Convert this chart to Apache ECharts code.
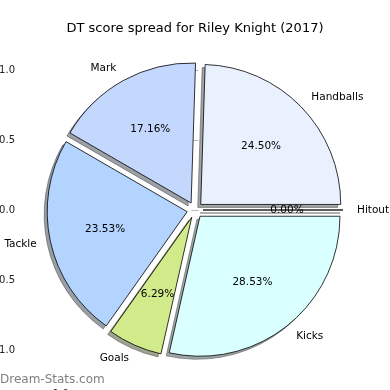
<!DOCTYPE html>
<html><head><meta charset="utf-8">
<script src="https://cdn.jsdelivr.net/npm/echarts@6/dist/echarts.min.js"></script>
<style>html,body{margin:0;padding:0;background:#fff}#c{width:390px;height:390px}</style>
</head><body><div id="c"></div>
<script>
const categories = ['Handballs', 'Mark', 'Tackle', 'Goals', 'Kicks', 'Hitout'];
const percents = [24.50, 17.16, 23.53, 6.29, 28.53, 0.00];
const colors = ['#EAF1FE', '#C4D8FE', '#B3D4FE', '#D1EB8A', '#D9FFFF', '#FFFFFF'];
const yTicks = [-1.0, -0.5, 0.0, 0.5, 1.0];
const xTopTicks = [-1.0];
const xBottomLabels = [-1.0];
const titleText = 'DT score spread for Riley Knight (2017)';
const watermark = 'Dream-Stats.com';

const FONT = 'DejaVu Sans';
const fmt = v => (v < 0 ? '\u2212' : '') + Math.abs(v).toFixed(1);
// matplotlib-like shadow: 0.3 * face colour at alpha 0.5
const shade = hex => {
  const n = parseInt(hex.slice(1), 16);
  const r = Math.round(((n >> 16) & 255) * 0.3), g = Math.round(((n >> 8) & 255) * 0.3), b = Math.round((n & 255) * 0.3);
  return 'rgba(' + r + ',' + g + ',' + b + ',0.5)';
};

const chart = echarts.init(document.getElementById('c'), null, {renderer: 'canvas'});
const baseData = categories.map((n, i) => ({name: n, value: percents[i], selected: true, itemStyle: {color: colors[i]}}));
const shadowData = categories.map((n, i) => ({name: n, value: percents[i], selected: true, itemStyle: {color: shade(colors[i]), borderColor: shade(colors[i])}}));
const labelData = categories.map((n, i) => ({name: n, value: percents[i], selected: true}));

const pieCommon = {
  type: 'pie', startAngle: 0, clockwise: false,
  selectedMode: 'multiple', selectedOffset: 8,
  avoidLabelOverlap: false, minShowLabelAngle: 0,
  silent: true, emphasis: {disabled: true}
};

chart.setOption({
  animation: false,
  backgroundColor: '#fff',
  title: {
    text: titleText, left: 'center', top: 17,
    textStyle: {fontFamily: FONT, fontSize: 13, fontWeight: 'normal', color: '#000'}
  },
  graphic: [{
    type: 'text', left: 0, top: 374,
    style: {text: watermark, fill: '#808080', font: '12px "DejaVu Sans"'}
  }],
  grid: {left: 22, right: 22, top: 35, bottom: 5, containLabel: false, outerBoundsMode: 'none'},
  xAxis: [{
    type: 'value', position: 'top', min: -1.25, max: 1.25,
    axisLine: {show: false}, splitLine: {show: false},
    axisTick: {show: true, customValues: xTopTicks, length: 3.5, lineStyle: {color: '#bbb'}},
    axisLabel: {show: false}
  }, {
    type: 'value', position: 'bottom', min: -1.25, max: 1.25,
    axisLine: {show: false}, splitLine: {show: false},
    axisTick: {show: false},
    axisLabel: {show: true, customValues: xBottomLabels, formatter: fmt, margin: 4, fontFamily: FONT, fontSize: 10, color: '#222'}
  }],
  yAxis: [{
    type: 'value', position: 'left', min: -1.25, max: 1.25,
    axisLine: {show: false}, splitLine: {show: false},
    axisTick: {show: true, customValues: yTicks, length: 3.5, lineStyle: {color: '#bbb'}},
    axisLabel: {show: true, customValues: yTicks, formatter: fmt, margin: 7, fontFamily: FONT, fontSize: 10, color: '#222'}
  }, {
    type: 'value', position: 'right', min: -1.25, max: 1.25,
    axisLine: {show: false}, splitLine: {show: false},
    axisTick: {show: true, customValues: yTicks, length: 3.5, lineStyle: {color: '#bbb'}},
    axisLabel: {show: false}
  }],
  series: [Object.assign({}, pieCommon, {
    center: [192, 213], radius: [0, 140], z: 2,
    data: shadowData,
    itemStyle: {borderWidth: 1},
    label: {show: false}, labelLine: {show: false}
  }), Object.assign({}, pieCommon, {
    center: [195, 210], radius: [0, 140], z: 3,
    data: baseData,
    itemStyle: {borderColor: '#000', borderWidth: 0.8},
    label: {show: true, position: 'outside', formatter: '{b}', rotate: 0, color: '#000', fontSize: 10.5, fontFamily: FONT, distanceToLabelLine: 0},
    labelLine: {show: false, length: 14, length2: 0}
  }), Object.assign({}, pieCommon, {
    center: [195, 210], radius: [0, 162], z: 4,
    data: labelData,
    itemStyle: {color: 'rgba(0,0,0,0)', borderWidth: 0},
    label: {show: true, position: 'inside', rotate: 0, formatter: p => p.value.toFixed(2) + '%', color: '#000', fontSize: 10.5, fontFamily: FONT},
    labelLine: {show: false}
  })]
});
</script></body></html>
